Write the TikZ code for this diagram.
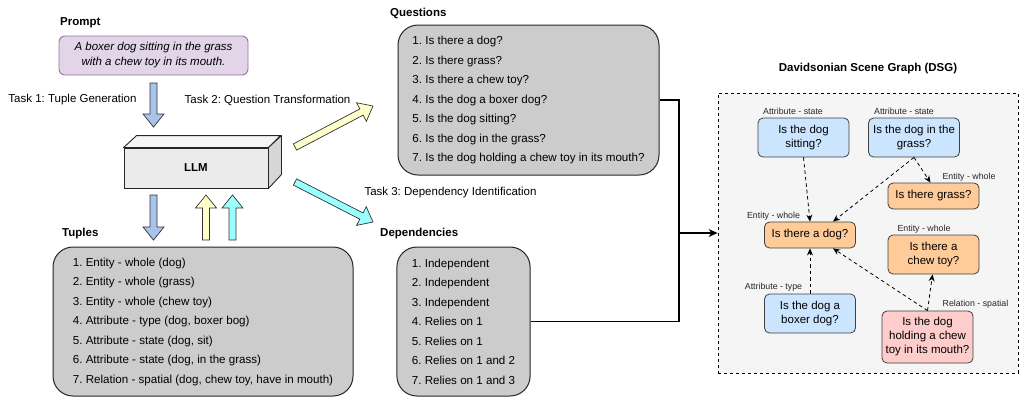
\documentclass[tikz,border=0pt]{standalone}
\usepackage{fontspec}
\setmainfont{Liberation Sans}
\usetikzlibrary{arrows.meta, calc}
\definecolor{promptfill}{HTML}{E1D5E7}
\definecolor{promptdraw}{HTML}{9673A6}
\definecolor{listfill}{HTML}{CCCCCC}
\definecolor{arrowblue}{HTML}{A9C4EB}
\definecolor{arrowyellow}{HTML}{FFFFCC}
\definecolor{arrowcyan}{HTML}{99FFFF}
\definecolor{llmfront}{HTML}{EBEBEB}
\definecolor{llmtop}{HTML}{F5F5F5}
\definecolor{llmside}{HTML}{D6D6D6}
\definecolor{dsgback}{HTML}{F5F5F5}
\definecolor{qblue}{HTML}{CCE5FF}
\definecolor{qorange}{HTML}{FFCC99}
\definecolor{qpink}{HTML}{FFCCCC}
\frenchspacing

\newcommand{\fatarrow}[3]{%
  \draw[fatline, fill=#1] let \p1=(#2), \p2=(#3),
    \n1={atan2(\y2-\y1,\x2-\x1)}, \n2={veclen(\x2-\x1,\y2-\y1)} in
    [shift={(\p1)}, rotate=\n1] (0pt,-3.5pt) -- ({\n2-13pt},-3.5pt) -- ({\n2-13pt},-10.5pt)
    -- ({\n2},0pt) -- ({\n2-13pt},10.5pt) -- ({\n2-13pt},3.5pt) -- (0pt,3.5pt) -- cycle;}

\begin{document}
\begin{tikzpicture}[
            x=1pt, y=-1pt,
            title/.style={font=\fontsize{11.5}{13}\selectfont\bfseries, inner sep=0pt},
            task/.style={font=\fontsize{11.5}{13}\selectfont, inner sep=0pt},
            promptbox/.style={rectangle, draw=promptdraw, fill=promptfill, line width=0.9pt,
                        rounded corners=6pt, minimum width=189pt, minimum height=39pt,
                        align=center, font=\fontsize{11.5}{15}\selectfont\itshape},
            listbox/.style={rectangle, draw=black!85, fill=listfill, line width=1pt,
                        rounded corners=20pt, inner xsep=15pt, inner ysep=0pt, align=left,
                        font=\fontsize{11.6}{19.5}\selectfont},
            llmbox/.style={rectangle, draw=black!85, fill=llmfront, line width=0.9pt,
                        minimum width=144pt, minimum height=40pt,
                        font=\fontsize{11.5}{13}\selectfont\bfseries},
            llmline/.style={draw=black!85, line width=0.9pt, line join=round},
            fatline/.style={draw=black!80, line width=0.7pt, line join=miter},
            conn/.style={line width=1.3pt, color=black},
            dsgbox/.style={rectangle, draw=black, fill=dsgback, dashed, line width=0.9pt,
                        minimum width=300pt, minimum height=280pt},
            qnode/.style={rectangle, draw=black!75, rounded corners=5pt, line width=0.8pt,
                        minimum width=91pt, inner sep=2pt, align=center,
                        font=\fontsize{11.5}{14}\selectfont},
            tag/.style={font=\fontsize{8.8}{10}\selectfont, text=black!85, inner sep=0pt},
            dep/.style={dashed, dash pattern=on 3.5pt off 3pt, line width=0.8pt,
                        -{Stealth[length=7pt, width=6pt]}}
        ]
            \useasboundingbox (0,0) rectangle (1019,397);

            \node[title, anchor=west] (promptlabel) at (60,23) {Prompt};
            \node[promptbox] (prompt) at (153.5,55.5) {A boxer dog sitting in the grass\\with a chew toy in its mouth.};

            \node[llmbox] (llm) at (196,168) {LLM};
            \draw[llmline, fill=llmtop] (llm.north west) -- ++(13,-12) -- ++(144,0) -- (llm.north east) -- cycle;
            \draw[llmline, fill=llmside] (llm.north east) -- ++(13,-12) -- ++(0,39) -- (llm.south east) -- cycle;

            \node[task] (task1) at (72.5,100) {Task 1: Tuple Generation};
            \node[task] (task2) at (267.5,100) {Task 2: Question Transformation};
            \node[task] (task3) at (450.5,193) {Task 3: Dependency Identification};

            \node[title, anchor=west] (tupleslabel) at (62,234) {Tuples};
            \node[listbox, minimum width=300pt, minimum height=149pt] (tuples) at (203,321.5)
                {1. Entity - whole (dog)\\
                 2. Entity - whole (grass)\\
                 3. Entity - whole (chew toy)\\
                 4. Attribute - type (dog, boxer bog)\\
                 5. Attribute - state (dog, sit)\\
                 6. Attribute - state (dog, in the grass)\\
                 7. Relation - spatial (dog, chew toy, have in mouth)};

            \node[title, anchor=west] (questionslabel) at (390,13) {Questions};
            \node[listbox, minimum width=261pt, minimum height=150pt, inner xsep=13pt] (questions) at (528.5,100)
                {1. Is there a dog?\\
                 2. Is there grass?\\
                 3. Is there a chew toy?\\
                 4. Is the dog a boxer dog?\\
                 5. Is the dog sitting?\\
                 6. Is the dog in the grass?\\
                 7. Is the dog holding a chew toy in its mouth?};

            \node[title, anchor=west] (depslabel) at (380,234) {Dependencies};
            \node[listbox, minimum width=131pt, minimum height=149pt] (deps) at (463.5,321.5)
                {1. Independent\\
                 2. Independent\\
                 3. Independent\\
                 4. Relies on 1\\
                 5. Relies on 1\\
                 6. Relies on 1 and 2\\
                 7. Relies on 1 and 3};

            \coordinate (a1s) at (153.5,83);  \coordinate (a1e) at (153.5,127);
            \coordinate (a2s) at (153.5,195); \coordinate (a2e) at (153.5,240);
            \coordinate (a3s) at (206,240);   \coordinate (a3e) at (206,195);
            \coordinate (a4s) at (232.5,240); \coordinate (a4e) at (232.5,195);
            \coordinate (a5s) at (295,147);   \coordinate (a5e) at (373,106);
            \coordinate (a6s) at (295,182);   \coordinate (a6e) at (373,222);
            \fatarrow{arrowblue}{a1s}{a1e}
            \fatarrow{arrowblue}{a2s}{a2e}
            \fatarrow{arrowyellow}{a3s}{a3e}
            \fatarrow{arrowcyan}{a4s}{a4e}
            \fatarrow{arrowyellow}{a5s}{a5e}
            \fatarrow{arrowcyan}{a6s}{a6e}

            \node[title] (dsglabel) at (868,69) {Davidsonian Scene Graph (DSG)};
            \node[dsgbox] (dsg) at (868,233) {};

            \coordinate (join) at (679,233);
            \draw[conn] (questions.east) -| (join) |- (deps.east);
            \draw[conn, -{Stealth[length=9pt, width=8pt]}] (join) -- (dsg);

            \node[qnode, fill=qblue, minimum height=39pt] (sitting) at (803.5,137.5) {Is the dog\\sitting?};
            \node[qnode, fill=qblue, minimum height=39pt] (ingrass) at (914,137.5) {Is the dog in the\\grass?};
            \node[qnode, fill=qorange, minimum height=26pt] (grass) at (933.5,196) {Is there grass?};
            \node[qnode, fill=qorange, minimum height=26pt] (dog) at (810,235) {Is there a dog?};
            \node[qnode, fill=qorange, minimum height=39pt] (chewtoy) at (933.5,254.5) {Is there a\\chew toy?};
            \node[qnode, fill=qblue, minimum height=39pt] (boxer) at (810,313.5) {Is the dog a\\boxer dog?};
            \node[qnode, fill=qpink, minimum height=52pt] (holding) at (927.5,337) {Is the dog\\holding a chew\\toy in its mouth?};

            \node[tag] (tagsitting) at (793,111) {Attribute - state};
            \node[tag] (tagingrass) at (904,111) {Attribute - state};
            \node[tag] (taggrass) at (969,177) {Entity - whole};
            \node[tag] (tagdog) at (773.5,216) {Entity - whole};
            \node[tag] (tagchewtoy) at (924,229) {Entity - whole};
            \node[tag] (tagboxer) at (773.5,287) {Attribute - type};
            \node[tag] (tagholding) at (975.5,304) {Relation - spatial};

            \draw[dep] (sitting.south) -- (dog.north);
            \draw[dep] (ingrass.south) -- ([xshift=23pt]dog.north);
            \draw[dep] (ingrass.south) -- ([xshift=-3pt]grass.north);
            \draw[dep] (boxer.north) -- (dog.south);
            \draw[dep] (holding.north) -- ([xshift=23pt]dog.south);
            \draw[dep] (holding.north) -- ([xshift=-1pt]chewtoy.south);
        \end{tikzpicture}
\end{document}
